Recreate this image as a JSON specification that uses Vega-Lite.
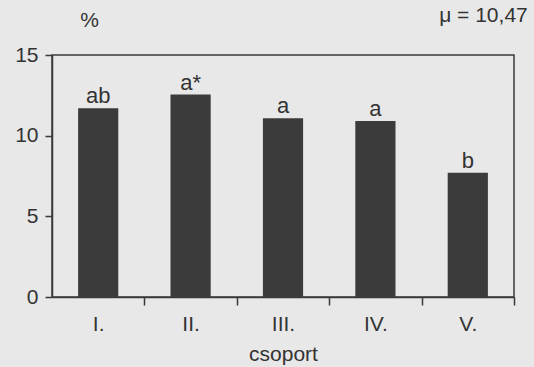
{
  "$schema": "https://vega.github.io/schema/vega-lite/v6.json",
  "autosize": {"type": "none"},
  "width": 462,
  "height": 242,
  "padding": {"left": 52, "top": 55, "right": 20, "bottom": 70},
  "background": "#e8e8e8",
  "config": {
    "font": "Liberation Sans",
    "view": {"stroke": "#3a3a3a", "strokeWidth": 1.5},
    "axis": {"domainColor": "#3a3a3a", "tickColor": "#3a3a3a", "labelColor": "#333333", "titleColor": "#333333", "domainWidth": 1.5, "tickWidth": 1.5, "labelFontSize": 21, "titleFontSize": 21, "titleFontWeight": "normal", "grid": false}
  },
  "title": {"text": "μ = 10,47", "anchor": "end", "orient": "top", "offset": -17, "dx": 13, "fontSize": 21, "fontWeight": "normal", "color": "#333333", "font": "Liberation Sans"},
  "data": {"values": [
    {"csoport": "I.", "value": 11.7, "label": "ab"},
    {"csoport": "II.", "value": 12.55, "label": "a*"},
    {"csoport": "III.", "value": 11.08, "label": "a"},
    {"csoport": "IV.", "value": 10.91, "label": "a"},
    {"csoport": "V.", "value": 7.7, "label": "b"}
  ]},
  "encoding": {
    "x": {"field": "csoport", "type": "nominal", "sort": null,
      "scale": {"paddingInner": 0.565, "paddingOuter": 0.2825},
      "axis": {"title": "csoport", "labelAngle": 0, "tickOffset": 46.2, "labelOffset": -46.2, "tickSize": 8, "labelPadding": 8, "titlePadding": 9}},
    "y": {"field": "value", "type": "quantitative",
      "scale": {"domain": [0, 15], "nice": false},
      "axis": {"values": [0, 5, 10, 15], "tickSize": 7, "labelPadding": 7, "title": "%", "titleAngle": 0, "titleAlign": "center", "titleBaseline": "middle", "titleX": 37, "titleY": -35}}
  },
  "layer": [
    {"mark": {"type": "bar", "color": "#3b3b3b"}},
    {"mark": {"type": "text", "baseline": "alphabetic", "dy": -5, "fontSize": 22, "color": "#333333", "font": "Liberation Sans"},
     "encoding": {"text": {"field": "label"}}}
  ]
}
